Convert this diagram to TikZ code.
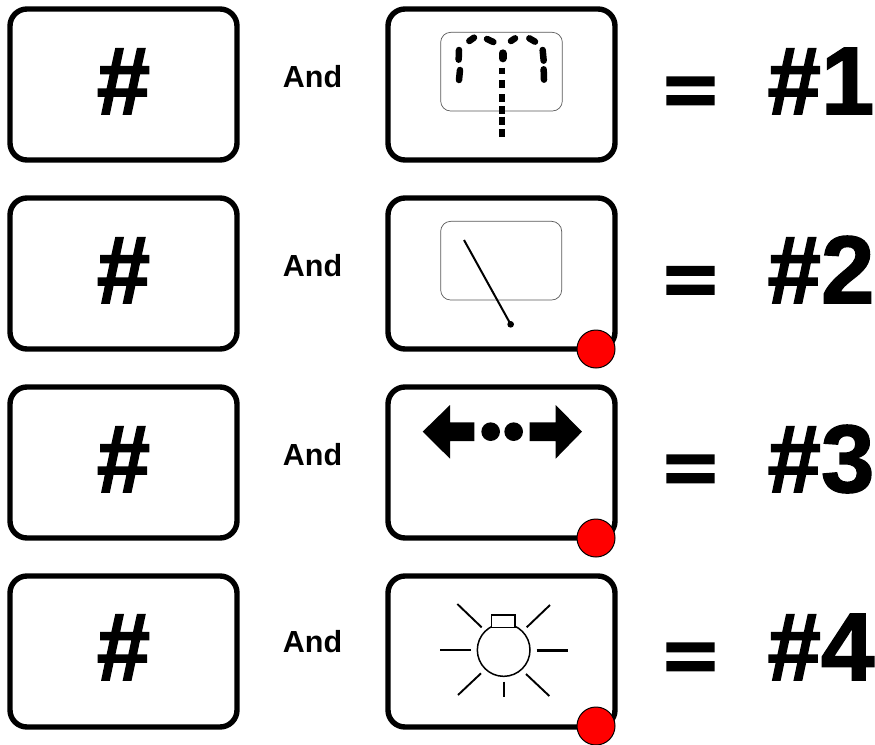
\documentclass[tikz,border=0pt]{standalone}
\usepackage{fontspec}
\setmainfont{Liberation Sans}
\newfontfamily\heavyfont{Liberation Sans}[UprightFont={* Bold},FakeBold=1.6]
\newfontfamily\eqfont{Liberation Sans}[UprightFont={* Bold},FakeBold=3.5]
\tikzset{
  x=1pt,y=-1pt,
  card/.style={draw=black,line width=5.4pt,rounded corners=17pt,fill=white},
  bigtxt/.style={inner sep=0pt,font=\fontsize{96}{96}\heavyfont,anchor=base},
  eqtxt/.style={inner sep=0pt,anchor=base,font=\fontsize{90}{90}\eqfont,yscale=0.78,transform shape},
  andtxt/.style={inner sep=0pt,font=\fontsize{30.5}{30.5}\selectfont\bfseries,anchor=base},
  screen/.style={draw=black!65,line width=0.7pt,rounded corners=10pt},
  blob/.style={line width=6.5pt,line cap=round,black},
  seg/.style={line width=6pt,black},
  ray/.style={line width=1.9pt,black},
  flag/.style={circle,draw=black,line width=1pt,fill=red,minimum size=38pt,inner sep=0pt},
}
\begin{document}
\begin{tikzpicture}
\useasboundingbox (0,0) rectangle (875,744);
% cards
\draw[card] (10,9) rectangle (237,160);
\draw[card] (10,198) rectangle (237,349);
\draw[card] (10,387) rectangle (237,538);
\draw[card] (10,576) rectangle (237,727);
\draw[card] (388,9) rectangle (615,160);
\draw[card] (388,198) rectangle (615,349);
\draw[card] (388,387) rectangle (615,538);
\draw[card] (388,576) rectangle (615,727);
% left hashes
\node[bigtxt] (h1) at (123.5,114) {\#};
\node[bigtxt] (h2) at (123.5,303) {\#};
\node[bigtxt] (h3) at (123.5,492) {\#};
\node[bigtxt] (h4) at (123.5,680) {\#};
% And
\node[andtxt] (a1) at (312.5,87) {And};
\node[andtxt] (a2) at (312.5,276) {And};
\node[andtxt] (a3) at (312.5,465) {And};
\node[andtxt] (a4) at (312.5,652) {And};
% equals
\node[eqtxt] (e1) at (690.5,114) {=};
\node[eqtxt] (e2) at (690.5,303.5) {=};
\node[eqtxt] (e3) at (690.5,492) {=};
\node[eqtxt] (e4) at (690.5,680) {=};
% results
\node[bigtxt] (r1) at (821,114) {\#1};
\node[bigtxt] (r2) at (821,303) {\#2};
\node[bigtxt] (r3) at (821,492) {\#3};
\node[bigtxt] (r4) at (821,680) {\#4};
% icon 1
\begin{scope}[shift={(380,0)},scale=0.33333]
\draw[screen] (182,97) rectangle (547,333);
\foreach \a/\b in {{268,123}/{282,113},{321,117}/{340,126},{393,123}/{405,115},{448,115}/{465,125},{237,150}/{236,179},{240,210}/{237,240},{488,150}/{491,182},{491,208}/{492,239}}
  \draw[blob] (\a) -- (\b);
\draw[blob,line width=8pt] (368,160) -- (368,175);
\foreach \p/\q in {203/222,241/265,283/305,318/343,350/375,388/412}
  \draw[seg] (365,\p) -- (365,\q);
\end{scope}
% icon 2
\begin{scope}[shift={(380,190)},scale=0.33333]
\draw[screen] (182,94) rectangle (545,330);
\draw[black,line width=2pt] (252,150) -- (392,403);
\fill[black] (392,403) circle (10);
\end{scope}
% icon 3
\begin{scope}[shift={(380,380)},scale=0.33333]
\fill[black] (128,155) -- (210,75) -- (210,127) -- (283,127) -- (283,183) -- (210,183) -- (210,236) -- cycle;
\fill[black] (332,155) circle (28);
\fill[black] (401,155) circle (28);
\fill[black] (449,127) -- (527,127) -- (527,75) -- (606,155) -- (527,236) -- (527,183) -- (449,183) -- cycle;
\end{scope}
% icon 4
\begin{scope}[shift={(380,565)},scale=0.33333]
\draw[black,line width=1.5pt] (371,255) circle (79);
\draw[black,line width=1.5pt,fill=white] (335,150) rectangle (405,187);
\foreach \a/\b in {{232,117}/{305,187},{510,120}/{440,187},{180,254}/{273,254},{303,325}/{234,390},{438,327}/{508,393},{371,350}/{371,395}}
  \draw[ray] (\a) -- (\b);
\draw[ray,line width=3pt] (470,256) -- (565,256);
\end{scope}
% red flags
\node[flag] (f2) at (596,349) {};
\node[flag] (f3) at (596,538) {};
\node[flag] (f4) at (596,726) {};
\end{tikzpicture}
\end{document}
